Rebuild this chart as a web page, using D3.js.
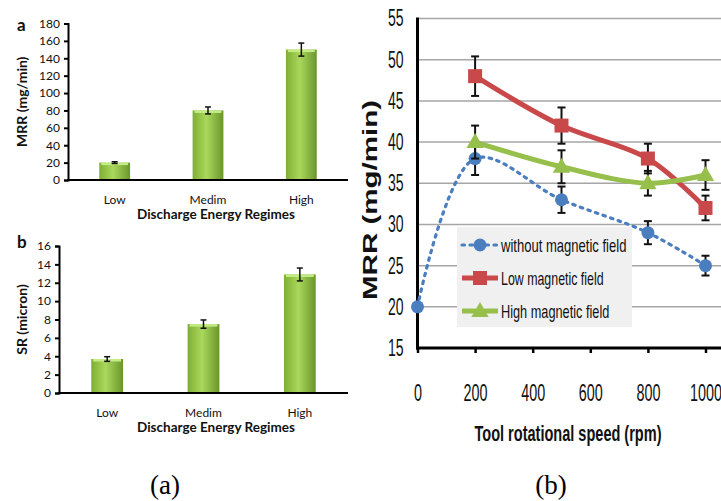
<!DOCTYPE html>
<html>
<head>
<meta charset="utf-8">
<script src="https://cdn.jsdelivr.net/npm/d3@7/dist/d3.min.js"></script>
<style>
  body { margin: 0; background: #ffffff; }
  svg { display: block; }
  .lft text { font-family: Lato, "Open Sans", sans-serif; fill: #111; }
  .rgt text { font-family: "Liberation Sans", Arial, sans-serif; fill: #111; }
</style>
</head>
<body>
<div id="chart"></div>
<script>
// panel (a) / (b-left): discharge energy regimes
var regimes = ["Low", "Medim", "High"];
var mrr_bar = [20, 80, 150];
var mrr_err = [1, 4, 7.5];
var sr_bar = [3.7, 7.5, 12.9];
var sr_err = [0.25, 0.45, 0.7];
var mrr_ticks = [0, 20, 40, 60, 80, 100, 120, 140, 160, 180];
var sr_ticks = [0, 2, 4, 6, 8, 10, 12, 14, 16];

// panel (b): tool rotational speed
var speeds_plain = [0, 200, 500, 800, 1000];
var mrr_plain = [20, 38, 33, 29, 25];
var err_plain = [0, 2, 1.6, 1.4, 1.2];
var speeds_field = [200, 500, 800, 1000];
var mrr_low = [48, 42, 38, 32];
var err_low = [2.4, 2.2, 1.8, 1.5];
var mrr_high = [40, 37, 35, 36];
var err_high = [2, 2, 1.5, 1.8];
var speed_ticks = [0, 200, 400, 600, 800, 1000];
var mrr_line_ticks = [15, 20, 25, 30, 35, 40, 45, 50, 55];
var legend_names = ["without magnetic field", "Low magnetic field", "High magnetic field"];

var W = 721, H = 501;
var svg = d3.select("#chart").append("svg").attr("width", W).attr("height", H);

// bar gradient
var defs = svg.append("defs");
var grad = defs.append("linearGradient").attr("id", "barGrad")
  .attr("x1", "0%").attr("x2", "100%").attr("y1", "0%").attr("y2", "0%");
grad.append("stop").attr("offset", "0%").attr("stop-color", "#7fae34");
grad.append("stop").attr("offset", "45%").attr("stop-color", "#a9d85c");
grad.append("stop").attr("offset", "100%").attr("stop-color", "#6a962a");

// ### draw_bars
// one small bar chart with error bars
function draw_bars(opt) {
  var g = svg.append("g").attr("class", "lft");
  var x = d3.scaleBand().domain(regimes).range([opt.x0, opt.x1])
    .paddingInner(0.67).paddingOuter(0.335);
  var y = d3.scaleLinear().domain([0, opt.max]).range([opt.y0, opt.y1]);

  var yAxis = d3.axisLeft(y).tickValues(opt.ticks).tickSize(4).tickPadding(4);
  var ya = g.append("g").attr("transform", "translate(" + opt.x0 + ",0)").call(yAxis);
  ya.select(".domain").attr("stroke", "#000").attr("stroke-width", 2);
  ya.selectAll(".tick line").attr("stroke", "#000").attr("stroke-width", 2);
  ya.selectAll(".tick text").style("font-size", "12px").attr("fill", "#222");

  var bars = g.selectAll(".bar").data(regimes).enter().append("g");
  bars.append("rect")
    .attr("x", function(d) { return x(d); })
    .attr("y", function(d, i) { return y(opt.vals[i]); })
    .attr("width", x.bandwidth())
    .attr("height", function(d, i) { return opt.y0 - y(opt.vals[i]); })
    .attr("fill", "url(#barGrad)");
  bars.append("rect")
    .attr("x", function(d) { return x(d) + 2; })
    .attr("y", function(d, i) { return y(opt.vals[i]); })
    .attr("width", x.bandwidth() - 4)
    .attr("height", 2.5)
    .attr("fill", "#c4ec84");

  // error bars
  bars.each(function(d, i) {
    var cx = x(d) + x.bandwidth() / 2;
    var top = y(opt.vals[i] + opt.errs[i]), bot = y(opt.vals[i] - opt.errs[i]);
    var e = d3.select(this);
    e.append("line").attr("x1", cx).attr("x2", cx).attr("y1", top).attr("y2", bot)
      .attr("stroke", "#111").attr("stroke-width", 1.5);
    [top, bot].forEach(function(yy) {
      e.append("line").attr("x1", cx - 3).attr("x2", cx + 3).attr("y1", yy).attr("y2", yy)
        .attr("stroke", "#111").attr("stroke-width", 1.5);
    });
  });

  g.append("line").attr("x1", opt.x0 - 1).attr("x2", opt.x1).attr("y1", opt.y0).attr("y2", opt.y0)
    .attr("stroke", "#000").attr("stroke-width", 2);

  g.selectAll(".cat").data(regimes).enter().append("text")
    .attr("x", function(d) { return x(d) + x.bandwidth() / 2; })
    .attr("y", opt.y0 + 24)
    .attr("text-anchor", "middle").style("font-size", "12px").text(function(d) { return d; });

  g.append("text").attr("x", 216).attr("y", opt.y0 + 39).attr("text-anchor", "middle")
    .style("font-size", "13.5px").style("font-weight", "bold").text("Discharge Energy Regimes");

  g.append("text").attr("transform", "translate(" + opt.ylx + "," + ((opt.y0 + opt.y1) / 2) + ") rotate(-90)")
    .attr("text-anchor", "middle").style("font-size", "14px").style("font-weight", "bold").text(opt.ylabel);

  g.append("text").attr("x", 17).attr("y", opt.letterY).style("font-size", "17px")
    .style("font-weight", "bold").text(opt.letter);
}

draw_bars({x0: 68, x1: 348, y0: 180, y1: 23.5, max: 180, ticks: mrr_ticks,
  vals: mrr_bar, errs: mrr_err, ylabel: "MRR (mg/min)", ylx: 27, letter: "a", letterY: 31});
draw_bars({x0: 59, x1: 348, y0: 393, y1: 246, max: 16, ticks: sr_ticks,
  vals: sr_bar, errs: sr_err, ylabel: "SR (micron)", ylx: 27, letter: "b", letterY: 248});

// right-hand line chart (condensed text: squeeze glyphs with textLength)
function squeeze(sel, perChar) {
  sel.each(function() {
    var t = d3.select(this);
    t.attr("textLength", t.text().length * perChar).attr("lengthAdjust", "spacingAndGlyphs");
  });
}

var rg = svg.append("g").attr("class", "rgt");
var rx = d3.scaleLinear().domain([0, 1000]).range([417.5, 705.5]);
var ry = d3.scaleLinear().domain([15, 55]).range([348, 18.5]);

rg.selectAll(".grid").data(mrr_line_ticks.slice(1)).enter().append("line")
  .attr("x1", rx(0)).attr("x2", W).attr("y1", function(d) { return ry(d); }).attr("y2", function(d) { return ry(d); })
  .attr("stroke", "#a6a6a6").attr("stroke-width", 1.5);

var ryAxis = d3.axisLeft(ry).tickValues(mrr_line_ticks).tickSize(0).tickPadding(14);
var rya = rg.append("g").attr("transform", "translate(" + rx(0) + ",0)").call(ryAxis);
rya.select(".domain").remove();
rya.selectAll(".tick text").style("font-size", "23px").attr("fill", "#111").call(squeeze, 7.8);

var rxAxis = d3.axisBottom(rx).tickValues(speed_ticks).tickFormat(d3.format("d")).tickSize(5).tickPadding(0);
var rxa = rg.append("g").attr("transform", "translate(0," + ry(15) + ")").call(rxAxis);
rxa.select(".domain").remove();
rxa.selectAll(".tick line").attr("stroke", "#000").attr("stroke-width", 2.5);
rxa.selectAll(".tick text").attr("dy", null).attr("y", 53).style("font-size", "23px")
  .attr("fill", "#111").call(squeeze, 8);

rg.append("line").attr("x1", rx(0)).attr("x2", rx(0)).attr("y1", ry(55) - 1).attr("y2", ry(15) + 1.5)
  .attr("stroke", "#000").attr("stroke-width", 3);
rg.append("line").attr("x1", rx(0) - 1.5).attr("x2", W).attr("y1", ry(15)).attr("y2", ry(15))
  .attr("stroke", "#000").attr("stroke-width", 3);

rg.append("text").attr("x", 568).attr("y", 441).attr("text-anchor", "middle")
  .style("font-size", "22px").style("font-weight", "bold")
  .attr("textLength", 187).attr("lengthAdjust", "spacingAndGlyphs").text("Tool rotational speed (rpm)");
rg.append("text").attr("transform", "translate(377,200) rotate(-90)").attr("text-anchor", "middle")
  .style("font-size", "21px").style("font-weight", "bold")
  .attr("textLength", 200).attr("lengthAdjust", "spacingAndGlyphs").text("MRR (mg/min)");

var curve = d3.curveCatmullRom.alpha(0.5);
var series = [
  {xs: speeds_plain, ys: mrr_plain, es: err_plain, color: "#4a7ebf", width: 3.2, dash: "2.5,5.5", shape: "circle"},
  {xs: speeds_field, ys: mrr_low, es: err_low, color: "#c9494b", width: 5, dash: null, shape: "square"},
  {xs: speeds_field, ys: mrr_high, es: err_high, color: "#96bf4c", width: 5, dash: null, shape: "triangle"}
];

function draw_marker(sel, shape, color, cx, cy) {
  if (shape === "circle") {
    sel.append("circle").attr("cx", cx).attr("cy", cy).attr("r", 6.5).attr("fill", color);
  } else if (shape === "square") {
    sel.append("rect").attr("x", cx - 7).attr("y", cy - 7).attr("width", 14).attr("height", 14).attr("fill", color);
  } else {
    sel.append("path").attr("d", d3.symbol().type(d3.symbolTriangle).size(130)())
      .attr("transform", "translate(" + cx + "," + (cy + 1) + ")").attr("fill", color);
  }
}

series.forEach(function(s) {
  var pts = s.xs.map(function(v, i) { return [rx(v), ry(s.ys[i])]; });
  var ln = rg.append("path").datum(pts)
    .attr("d", d3.line().curve(curve))
    .attr("fill", "none").attr("stroke", s.color).attr("stroke-width", s.width)
    .attr("stroke-linecap", s.dash ? "round" : "butt");
  if (s.dash) ln.attr("stroke-dasharray", s.dash);
});

series.forEach(function(s) {
  s.xs.forEach(function(v, i) {
    if (!s.es[i]) return;
    var cx = rx(v), t = ry(s.ys[i] + s.es[i]), b = ry(s.ys[i] - s.es[i]);
    rg.append("line").attr("x1", cx).attr("x2", cx).attr("y1", t).attr("y2", b)
      .attr("stroke", "#111").attr("stroke-width", 2);
    [t, b].forEach(function(yy) {
      rg.append("line").attr("x1", cx - 4).attr("x2", cx + 4).attr("y1", yy).attr("y2", yy)
        .attr("stroke", "#111").attr("stroke-width", 2);
    });
  });
  s.xs.forEach(function(v, i) { draw_marker(rg, s.shape, s.color, rx(v), ry(s.ys[i])); });
});

// legend
var leg = rg.append("g");
leg.append("rect").attr("x", 457).attr("y", 227).attr("width", 175).attr("height", 100).attr("fill", "#f0f0f0");
var rowsY = [245, 278, 311];
series.forEach(function(s, i) {
  var ly = rowsY[i];
  var l = leg.append("line").attr("x1", 462).attr("x2", 498).attr("y1", ly).attr("y2", ly)
    .attr("stroke", s.color).attr("stroke-width", s.width);
  if (s.dash) l.attr("stroke-dasharray", s.dash).attr("stroke-linecap", "round");
  draw_marker(leg, s.shape, s.color, 480, ly);
  leg.append("text").attr("x", 501).attr("y", ly).attr("dy", "0.36em")
    .style("font-size", "19px").text(legend_names[i]).call(squeeze, 5.7);
});

// captions
svg.selectAll(".cap").data(["(a)", "(b)"]).enter().append("text")
  .attr("x", function(d, i) { return i ? 551 : 165; }).attr("y", 494)
  .attr("text-anchor", "middle")
  .style("font-family", "'Liberation Serif', 'DejaVu Serif', serif").style("font-size", "27px")
  .text(function(d) { return d; });
</script>
</body>
</html>
